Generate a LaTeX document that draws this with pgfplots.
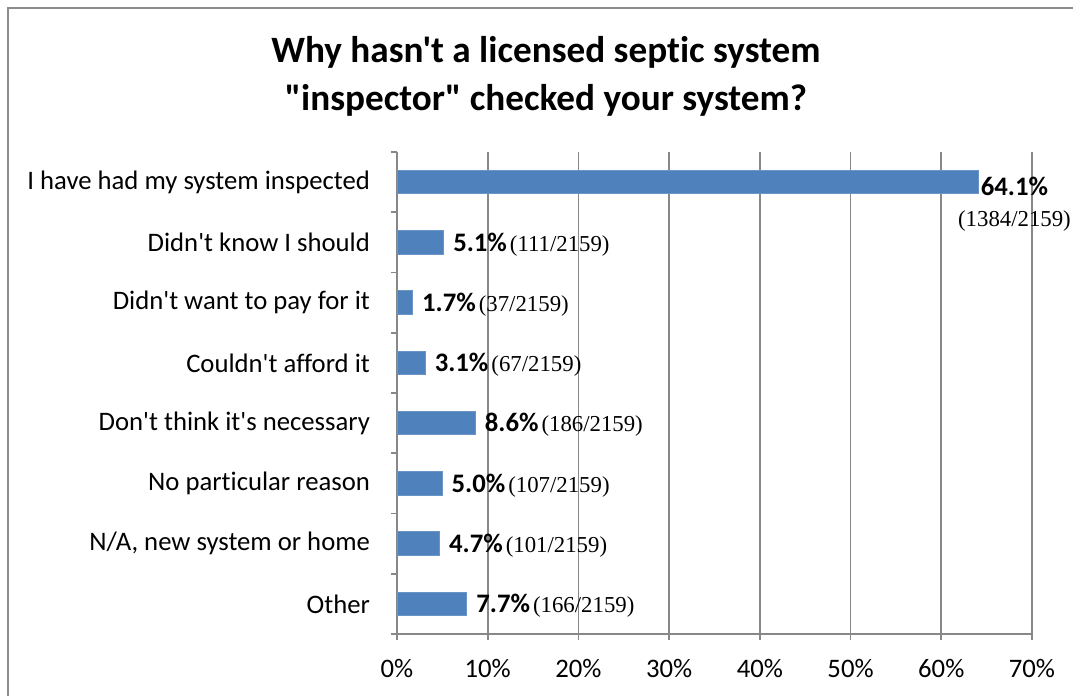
\documentclass[border=0pt]{standalone}
\usepackage{pgfplots}
\pgfplotsset{compat=1.18}
\usepackage{pgfplotstable}
\usepackage{fontspec}
\setmainfont[Ligatures={TeXOff,CommonOff}]{Carlito}
\newfontfamily\serif{Liberation Serif}
\definecolor{barblue}{HTML}{4F81BD}
\definecolor{gridgray}{HTML}{888888}
\definecolor{framegray}{HTML}{8C8C8C}

\pgfplotstableread{
y pct n
7 64.10 1384
}\datatop
\pgfplotstableread{
y pct n
6 5.14 111
5 1.71 37
4 3.10 67
3 8.62 186
2 4.96 107
1 4.68 101
0 7.69 166
}\datarest

\newcommand\lblfont{\fontsize{13.35}{15.8}\selectfont}
\newcommand\cntfont{\serif\fontsize{11.4}{13}\selectfont}

\begin{document}
\begin{tikzpicture}[x=1pt,y=1pt]
\useasboundingbox (0,0) rectangle (536.5,348);
\draw[framegray, line width=1.2pt] (4,0) -- (4,344) -- (536.5,344);
\node[align=center, font=\bfseries\fontsize{18.6}{24}\selectfont] at (273,310)
  {Why hasn't a licensed septic system\\"inspector" checked your system?};
\begin{axis}[
  at={(198.5pt,31pt)}, anchor=south west,
  width=317.5pt, height=241pt, scale only axis,
  xbar, bar width=11.75pt, bar shift=0pt,
  xmin=0, xmax=70, ymin=-0.5, ymax=7.5,
  axis x line*=bottom, axis y line*=left,
  axis line style={gridgray, line width=0.8pt},
  every tick/.style={gridgray, line width=0.8pt},
  tick align=outside, major tick length=3pt,
  xtick={0,10,...,70},
  xticklabels={0\%,10\%,20\%,30\%,40\%,50\%,60\%,70\%},
  xmajorgrids=true,
  major grid style={gridgray, line width=0.8pt},
  ytick={-0.5,0.5,1.5,2.5,3.5,4.5,5.5,6.5,7.5},
  yticklabels={},
  extra y ticks={0,1,2,3,4,5,6,7},
  extra y tick labels={Other, {N/A, new system or home}, No particular reason, Don't think it's necessary, Couldn't afford it, Didn't want to pay for it, Didn't know I should, I have had my system inspected},
  extra y tick style={major tick length=0pt, yticklabel style={xshift=-10pt}},
  tick label style={font=\lblfont, text=black},
  xticklabel style={yshift=-6pt},
  /pgf/number format/assume math mode=true,
  /pgf/number format/1000 sep={},
  point meta=x,
  visualization depends on={\thisrow{n}\as\cnt},
  clip=false,
]
\addplot[fill=barblue, draw=barblue!85!white,
  nodes near coords={\textbf{\pgfmathprintnumber[fixed,fixed zerofill,precision=1]{\pgfplotspointmeta}\%}\\{\cntfont(\pgfmathprintnumber[fixed,precision=0]{\cnt}/2159)}},
  every node near coord/.append style={font=\lblfont, align=center, anchor=center, xshift=18pt, yshift=-11pt, text=black}]
  table[x=pct, y=y] {\datatop};
\addplot[fill=barblue, draw=barblue!85!white,
  nodes near coords={\textbf{\pgfmathprintnumber[fixed,fixed zerofill,precision=1]{\pgfplotspointmeta}\%}\hspace{1.5pt}{\cntfont(\pgfmathprintnumber[fixed,precision=0]{\cnt}/2159)}},
  every node near coord/.append style={font=\lblfont, anchor=west, xshift=1.3pt, yshift=-1pt, text=black}]
  table[x=pct, y=y] {\datarest};
\end{axis}
\end{tikzpicture}
\end{document}
